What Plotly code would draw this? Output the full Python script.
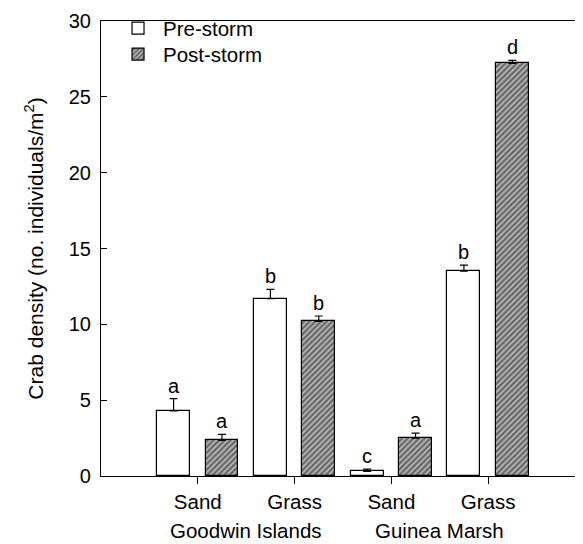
import plotly.graph_objects as go

habitats = ["Sand", "Grass", "Sand", "Grass"]
sites = ["Goodwin Islands", "Guinea Marsh"]
pre_vals = [4.3, 11.7, 0.3, 13.5]
pre_err = [0.8, 0.6, 0.15, 0.4]
post_vals = [2.35, 10.2, 2.5, 27.2]
post_err = [0.4, 0.35, 0.33, 0.2]
pre_letters = ["a", "b", "c", "b"]
post_letters = ["a", "b", "a", "d"]

idx = list(range(len(habitats)))
off = 0.25
bw = 0.34

fig = go.Figure()
fig.add_trace(go.Bar(
    x=[i - off for i in idx], y=pre_vals, width=bw, name="Pre-storm",
    legend="legend",
    marker=dict(color="white", line=dict(color="black", width=1.2)),
    error_y=dict(type="data", array=pre_err, symmetric=False, arrayminus=[0]*4,
                 color="black", thickness=1.2, width=4),
))
fig.add_trace(go.Bar(
    x=[i + off for i in idx], y=post_vals, width=bw, name="Post-storm",
    legend="legend2",
    marker=dict(color="white", line=dict(color="black", width=1.2),
                pattern=dict(shape="/", fgcolor="#111111", bgcolor="#bdbdbd",
                             size=4, solidity=0.6)),
    error_y=dict(type="data", array=post_err, symmetric=False, arrayminus=[0]*4,
                 color="black", thickness=1.2, width=4),
))

font = "Liberation Sans, Arial, Helvetica, sans-serif"
anns = []
for i in idx:
    anns.append(dict(x=i - off, y=pre_vals[i] + pre_err[i], text=pre_letters[i],
                     showarrow=False, yanchor="bottom", yshift=0,
                     font=dict(size=20, family=font, color="black")))
    anns.append(dict(x=i + off, y=post_vals[i] + post_err[i], text=post_letters[i],
                     showarrow=False, yanchor="bottom", yshift=0,
                     font=dict(size=20, family=font, color="black")))
for s, site in enumerate(sites):
    anns.append(dict(x=2 * s + 0.5, y=0, xref="x", yref="paper", text=site,
                     showarrow=False, yanchor="middle", yshift=-54,
                     font=dict(size=20.5, family=font, color="black")))

leg_common = dict(xanchor="left", yanchor="middle", bgcolor="rgba(0,0,0,0)",
                  font=dict(size=20.5), itemwidth=40)
fig.update_layout(
    width=575, height=536,
    margin=dict(l=93, r=1, t=12, b=68),
    paper_bgcolor="white", plot_bgcolor="white",
    font=dict(family=font, color="black", size=20),
    showlegend=True,
    legend=dict(x=0.025, y=0.982, **leg_common),
    legend2=dict(x=0.025, y=0.925, **leg_common),
    annotations=anns,
    bargap=0,
)
fig.update_xaxes(range=[-1, 3.97], tickvals=idx, ticktext=habitats,
                 showline=True, linecolor="black", linewidth=1.2, mirror=True,
                 ticks="outside", ticklen=7, tickcolor="black", showgrid=False,
                 zeroline=False, tickfont=dict(size=20.5), ticklabelstandoff=0,
                 automargin=False)
fig.update_yaxes(range=[0, 30], tickvals=[0, 5, 10, 15, 20, 25, 30],
                 showline=True, linecolor="black", linewidth=1.2, mirror=True,
                 ticks="inside", ticklen=6, tickcolor="black", showgrid=False,
                 zeroline=False, tickfont=dict(size=20), ticklabelstandoff=5,
                 ticklabeloverflow="allow", automargin=False,
                 title=dict(text="Crab density (no. individuals/m<sup>2</sup>)",
                            font=dict(size=21), standoff=19))

fig.write_html("out.html")
